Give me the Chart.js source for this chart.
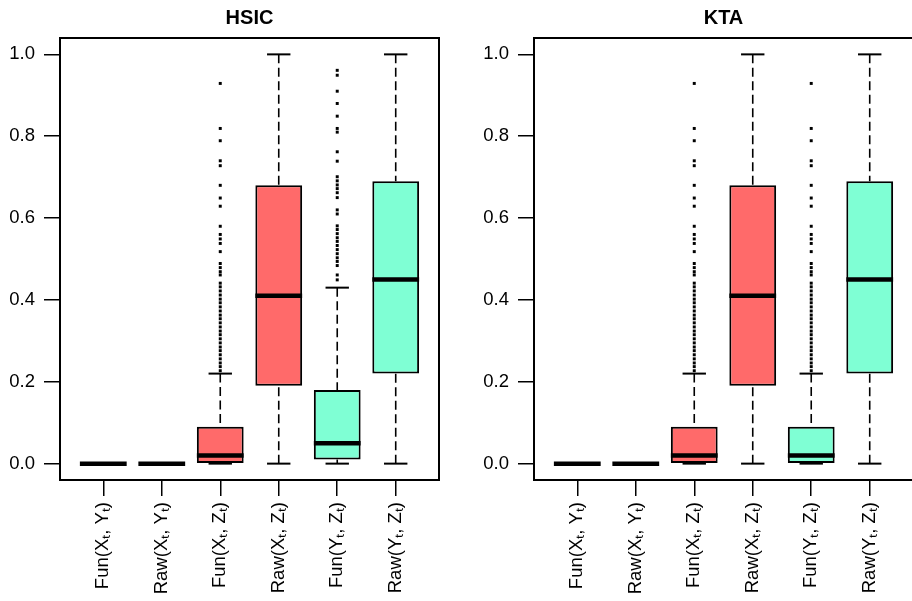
<!DOCTYPE html>
<html>
<head>
<meta charset="utf-8">
<script src="https://cdn.jsdelivr.net/npm/chart.js@4"></script>
<style>
  body { margin: 0; width: 912px; height: 601px; overflow: hidden; background: #fff; position: relative; }
  .panel { position: absolute; top: 0; width: 456px; height: 601px; }
</style>
</head>
<body>
<div class="panel" style="left:0px"><canvas id="hsicChart" width="456" height="601"></canvas></div>
<div class="panel" style="left:474px"><canvas id="ktaChart" width="456" height="601"></canvas></div>
<script>
const categories = ['Fun(Xₜ, Yₜ)', 'Raw(Xₜ, Yₜ)', 'Fun(Xₜ, Zₜ)', 'Raw(Xₜ, Zₜ)', 'Fun(Yₜ, Zₜ)', 'Raw(Yₜ, Zₜ)'];
const yTicks = [0, 0.2, 0.4, 0.6, 0.8, 1.0];

// HSIC panel
const hsicLow = [0, 0, 0, 0, 0, 0];
const hsicQ1 = [0, 0, 0, 0.19, 0.01, 0.22];
const hsicMedian = [0, 0, 0.02, 0.41, 0.05, 0.45];
const hsicQ3 = [0, 0, 0.09, 0.68, 0.18, 0.69];
const hsicHigh = [0, 0, 0.22, 1.0, 0.43, 1.0];
const hsicOutFunXZ = [0.929, 0.819, 0.789, 0.740, 0.728, 0.680, 0.649, 0.629, 0.580, 0.560, 0.549, 0.538, 0.518,
  0.489, 0.479, 0.469, 0.461, 0.441, 0.432, 0.422, 0.412, 0.402, 0.393, 0.383, 0.373, 0.363, 0.354, 0.344,
  0.334, 0.324, 0.315, 0.305, 0.295, 0.285, 0.276, 0.266, 0.256, 0.246, 0.237, 0.227];
const hsicOutFunYZ = [0.961, 0.949, 0.910, 0.880, 0.849, 0.819, 0.810, 0.762, 0.739, 0.701, 0.691, 0.681, 0.672,
  0.662, 0.650, 0.620, 0.610, 0.581, 0.572, 0.562, 0.552, 0.543, 0.533, 0.523, 0.513, 0.503, 0.494, 0.484,
  0.461, 0.449];

// KTA panel
const ktaLow = [0, 0, 0, 0, 0, 0];
const ktaQ1 = [0, 0, 0, 0.19, 0, 0.22];
const ktaMedian = [0, 0, 0.02, 0.41, 0.02, 0.45];
const ktaQ3 = [0, 0, 0.09, 0.68, 0.09, 0.69];
const ktaHigh = [0, 0, 0.22, 1.0, 0.22, 1.0];
const ktaOutFunXZ = [0.929, 0.819, 0.789, 0.740, 0.728, 0.680, 0.649, 0.629, 0.580, 0.560, 0.549, 0.538, 0.518,
  0.489, 0.479, 0.469, 0.461, 0.441, 0.432, 0.422, 0.412, 0.402, 0.393, 0.383, 0.373, 0.363, 0.354, 0.344,
  0.334, 0.324, 0.315, 0.305, 0.295, 0.285, 0.276, 0.266, 0.256, 0.246, 0.237, 0.227];
const ktaOutFunYZ = [0.929, 0.819, 0.789, 0.740, 0.728, 0.680, 0.649, 0.629, 0.580, 0.560, 0.549, 0.538, 0.518,
  0.489, 0.479, 0.469, 0.461, 0.441, 0.432, 0.422, 0.412, 0.402, 0.393, 0.383, 0.373, 0.363, 0.354, 0.344,
  0.334, 0.324, 0.315, 0.305, 0.295, 0.285, 0.276, 0.266, 0.256, 0.246, 0.237, 0.227];

const boxColors = ['#FF6A6A', '#FF6A6A', '#FF6A6A', '#FF6A6A', '#7FFFD4', '#7FFFD4'];

Chart.defaults.font.family = '"Liberation Sans", Arial, Helvetica, sans-serif';
Chart.defaults.color = '#000';

function seg(ctx, x1, y1, x2, y2) {
  ctx.beginPath();
  ctx.moveTo(x1, y1);
  ctx.lineTo(x2, y2);
  ctx.stroke();
}

// whiskers, staples and medians, drawn on top of the bar boxes
function boxLines(low, median, high, q1, q3) {
  return {
    id: 'boxLines',
    afterDatasetsDraw(chart) {
      const ctx = chart.ctx;
      const xs = chart.scales.x, ys = chart.scales.y;
      const bars = chart.getDatasetMeta(0).data;
      ctx.save();
      ctx.strokeStyle = '#000';
      for (let i = 0; i < median.length; i++) {
        const cx = xs.getPixelForValue(i + 1);
        const half = bars[i].width / 2;
        ctx.lineWidth = 1.6;
        ctx.setLineDash([9, 4.5]);
        seg(ctx, cx, ys.getPixelForValue(high[i]), cx, ys.getPixelForValue(q3[i]));
        seg(ctx, cx, ys.getPixelForValue(low[i]), cx, ys.getPixelForValue(q1[i]));
        ctx.setLineDash([]);
        ctx.lineWidth = 2;
        seg(ctx, cx - half / 2, ys.getPixelForValue(high[i]), cx + half / 2, ys.getPixelForValue(high[i]));
        seg(ctx, cx - half / 2, ys.getPixelForValue(low[i]), cx + half / 2, ys.getPixelForValue(low[i]));
        ctx.lineWidth = 4.5;
        seg(ctx, cx - half, ys.getPixelForValue(median[i]), cx + half, ys.getPixelForValue(median[i]));
      }
      ctx.restore();
    },
    afterDraw(chart) {
      const a = chart.chartArea;
      const ctx = chart.ctx;
      ctx.save();
      ctx.strokeStyle = '#000';
      ctx.lineWidth = 2;
      ctx.strokeRect(a.left, a.top, a.right - a.left, a.bottom - a.top);
      ctx.restore();
    }
  };
}

function makeChart(id, title, low, q1, median, q3, high, outXZ, outYZ) {
  const boxes = categories.map((c, i) => ({ x: i + 1, y: [q1[i], q3[i]] }));
  const outliers = outXZ.map(v => ({ x: 3, y: v })).concat(outYZ.map(v => ({ x: 5, y: v })));
  return new Chart(document.getElementById(id), {
    type: 'bar',
    data: {
      datasets: [{
        label: title,
        data: boxes,
        backgroundColor: boxColors,
        borderColor: '#000',
        borderWidth: 2,
        borderSkipped: false,
        barPercentage: 0.8,
        categoryPercentage: 1
      }, {
        type: 'scatter',
        label: 'outliers',
        data: outliers,
        pointStyle: 'rect',
        pointRadius: 2.1,
        pointBorderWidth: 0,
        pointBackgroundColor: '#000',
        showLine: false
      }]
    },
    options: {
      responsive: false,
      animation: false,
      devicePixelRatio: 1,
      layout: { padding: { right: 17 } },
      plugins: {
        legend: { display: false },
        tooltip: { enabled: false },
        title: {
          display: true,
          text: title,
          fullSize: false,
          color: '#000',
          font: { size: 20, weight: 'bold', lineHeight: 1.2 },
          padding: { top: 6, bottom: 8 }
        }
      },
      scales: {
        x: {
          type: 'linear',
          offset: false,
          min: 0.26,
          max: 6.74,
          afterBuildTicks: s => { s.ticks = categories.map((c, i) => ({ value: i + 1 })); },
          afterFit: s => { s.height = 121; },
          border: { display: false },
          grid: { offset: false, drawOnChartArea: false, tickLength: 16, lineWidth: 1.5, color: '#000' },
          ticks: {
            autoSkip: false,
            minRotation: 90,
            maxRotation: 90,
            padding: 6,
            font: { size: 18.5 },
            callback: v => categories[v - 1]
          }
        },
        y: {
          min: -0.04,
          max: 1.04,
          afterBuildTicks: s => { s.ticks = yTicks.map(v => ({ value: v })); },
          afterFit: s => { s.width = 60; },
          border: { display: false },
          grid: { drawOnChartArea: false, tickLength: 16, lineWidth: 1.5, color: '#000' },
          ticks: {
            padding: 9,
            font: { size: 18.5 },
            callback: v => v.toFixed(1)
          }
        }
      }
    },
    plugins: [boxLines(low, median, high, q1, q3)]
  });
}

makeChart('hsicChart', 'HSIC', hsicLow, hsicQ1, hsicMedian, hsicQ3, hsicHigh, hsicOutFunXZ, hsicOutFunYZ);
makeChart('ktaChart', 'KTA', ktaLow, ktaQ1, ktaMedian, ktaQ3, ktaHigh, ktaOutFunXZ, ktaOutFunYZ);
</script>
</body>
</html>
